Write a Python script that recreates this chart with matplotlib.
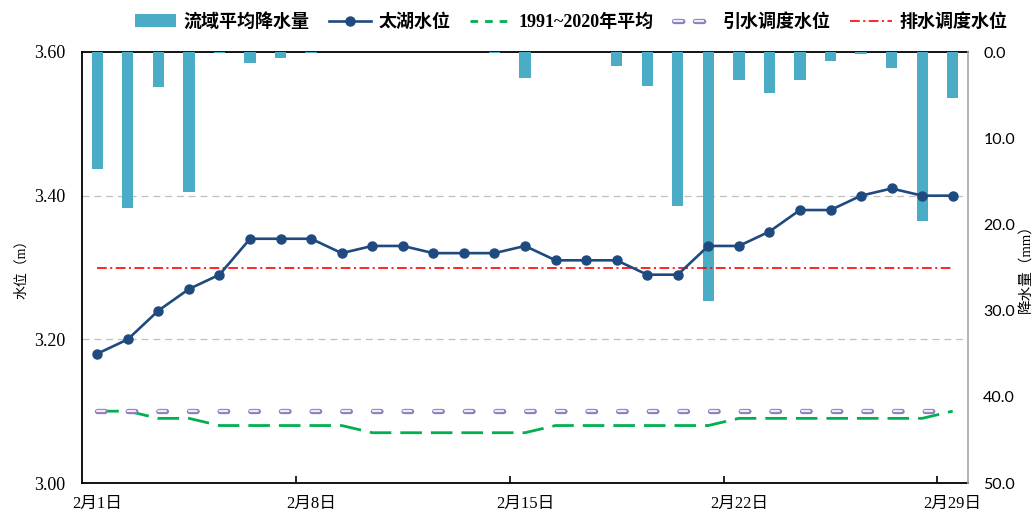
import matplotlib
matplotlib.use("Agg")
import matplotlib.pyplot as plt
from matplotlib.ticker import FixedLocator, NullFormatter
from matplotlib.lines import Line2D

plt.rcParams['lines.scale_dashes'] = False

# ---------------- data ----------------
days = list(range(1, 30))
tick_days = [1, 8, 15, 22, 29]
tick_labels = ['2月1日', '2月8日', '2月15日', '2月22日', '2月29日']

rain = [13.6, 18.1, 4.1, 16.2, 0.15, 1.3, 0.7, 0.1, 0, 0,
        0, 0, 0, 0.1, 3.0, 0, 0, 1.6, 4.0, 17.9,
        28.9, 3.3, 4.7, 3.3, 1.1, 0.2, 1.9, 19.6, 5.3]

taihu = [3.18, 3.20, 3.24, 3.27, 3.29, 3.34, 3.34, 3.34, 3.32, 3.33,
         3.33, 3.32, 3.32, 3.32, 3.33, 3.31, 3.31, 3.31, 3.29, 3.29,
         3.33, 3.33, 3.35, 3.38, 3.38, 3.40, 3.41, 3.40, 3.40]

avg = [3.10, 3.10, 3.09, 3.09, 3.08, 3.08, 3.08, 3.08, 3.08, 3.07,
       3.07, 3.07, 3.07, 3.07, 3.07, 3.08, 3.08, 3.08, 3.08, 3.08,
       3.08, 3.09, 3.09, 3.09, 3.09, 3.09, 3.09, 3.09, 3.10]

intake = [3.10] * 29
drain = [3.30] * 29

left_ticks = [3.0, 3.2, 3.4, 3.6]
left_labels = ['3.00', '3.20', '3.40', '3.60']
right_ticks = [0, 10, 20, 30, 40, 50]
right_labels = ['0.0', '10.0', '20.0', '30.0', '40.0', '50.0']

# ---------------- figure ----------------
fig = plt.figure(figsize=(10.36, 5.16), dpi=100)
ax = fig.add_axes([82/1036, 1-483/516, (968-82)/1036, (483-52)/516])
ax2 = ax.twinx()
ax3 = ax.twinx()

serif_cjk = ['Liberation Serif', 'Noto Sans CJK SC']

# host axis: water level, grid
ax.set_xlim(0.5, 29.5)
ax.set_ylim(3.0, 3.6)
ax.set_yticks(left_ticks)
ax.set_yticklabels(left_labels, family='Liberation Serif', fontsize=13)
ax.tick_params(axis='y', length=0, pad=12)
for yv in [3.2, 3.4]:
    ax.axhline(yv, color='#BFBFBF', lw=0.9, dashes=(5, 3.5), zorder=0)
ax.set_xticks(tick_days)
ax.set_xticklabels(tick_labels, family=serif_cjk, fontsize=12)
ax.xaxis.set_minor_locator(FixedLocator([7.5, 14.5, 21.5, 28.5]))
ax.xaxis.set_minor_formatter(NullFormatter())
ax.tick_params(axis='x', which='major', length=0, pad=9)
ax.tick_params(axis='x', which='minor', direction='in', length=5, width=1.2, color='black')
for s in ['left', 'bottom', 'top']:
    ax.spines[s].set_color('black')
    ax.spines[s].set_linewidth(1.3)
ax.spines['right'].set_visible(False)

# bar axis: precipitation, inverted
ax2.bar(days, rain, width=0.37, color='#4BACC6', zorder=2)
ax2.set_ylim(50, 0)
ax2.set_yticks(right_ticks)
ax2.set_yticklabels(right_labels, family='Lato', fontsize=11.5)
ax2.tick_params(axis='y', length=0, pad=11)
for s in ['left', 'bottom', 'top']:
    ax2.spines[s].set_visible(False)
ax2.spines['right'].set_color('#A6A6A6')
ax2.spines['right'].set_linewidth(1.2)

# axis titles
fig.text(21/1036, 1-266/516, '水位（m）', rotation=90, ha='center', va='center',
         family=serif_cjk, fontsize=10)
fig.text(1026/1036, 1-265/516, '降水量（mm）', rotation=90, ha='center', va='center',
         family=serif_cjk, fontsize=10.5)

# line axis on top
ax3.set_ylim(3.0, 3.6)
ax3.set_xlim(0.5, 29.5)
ax3.yaxis.set_visible(False)
for s in ax3.spines.values():
    s.set_visible(False)

l_drain, = ax3.plot(days, drain, color='#FF0000', lw=1.2, dashes=(7, 2.5, 1.5, 2.5), zorder=3)
l_avg, = ax3.plot(days, avg, color='#00B050', lw=2.0, dashes=(15.5, 6.5), zorder=4)
ax3.plot(days, intake, color='#8E7CC3', lw=3.8, dashes=(5.5, 16.57),
         dash_capstyle='round', zorder=5)
ax3.plot(days, intake, color='#EEEAF6', lw=1.6, dashes=(5.5, 16.57),
         dash_capstyle='round', zorder=6)
l_taihu, = ax3.plot(days, taihu, color='#1F4A7F', lw=1.9, marker='o', markersize=6.5, zorder=7)

# legend proxies for the hollow purple dashes
p_out = Line2D([], [], color='#8E7CC3', lw=3.8, dashes=(6, 9), dash_capstyle='round')
p_in = Line2D([], [], color='#EEEAF6', lw=1.6, dashes=(6, 9), dash_capstyle='round')
p_avg = Line2D([], [], color='#00B050', lw=2.0, dashes=(5.5, 5))

bars_handle = ax2.patches[0]
handles = [bars_handle, l_taihu, p_avg, (p_out, p_in), l_drain]
labels = ['流域平均降水量', '太湖水位', '1991~2020年平均', '引水调度水位', '排水调度水位']
leg = fig.legend(handles, labels, loc='center', bbox_to_anchor=(571/1036, 1-22/516),
                 ncol=5, frameon=False, handlelength=2.3, handletextpad=0.4, columnspacing=1.1,
                 prop={'family': serif_cjk, 'size': 13, 'weight': 'bold'})

fig.savefig('out.png', dpi=100)
